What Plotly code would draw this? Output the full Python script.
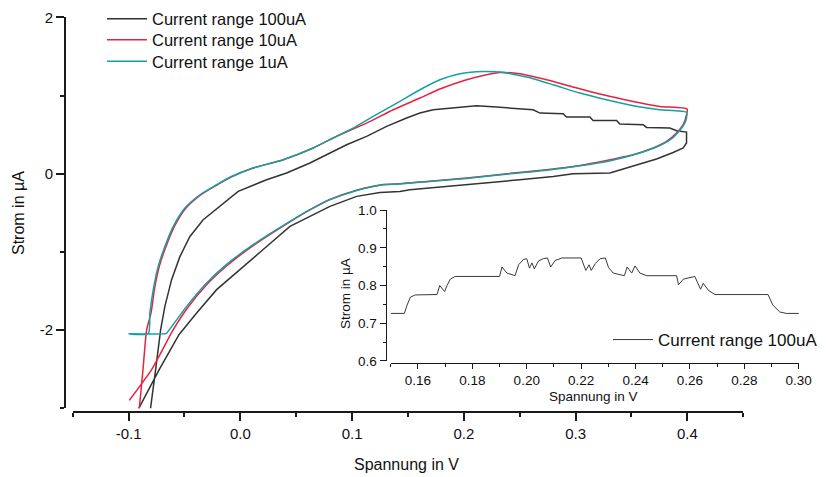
import plotly.graph_objects as go

# ---------------- data ----------------
# Current range 100uA (black)
x_100uA = [-0.0815, -0.0803, -0.0758, -0.0713, -0.0675, -0.0615, -0.0540, -0.0451, -0.0332, -0.0183,
           -0.0019, 0.0235, 0.0414, 0.0623, 0.0772, 0.0951, 0.1130, 0.1309, 0.1488, 0.1607,
           0.1726, 0.1905, 0.2114, 0.2293, 0.2621, 0.2681, 0.2889, 0.2919, 0.3128, 0.3157,
           0.3367, 0.3396, 0.3605, 0.3635, 0.3844, 0.3904, 0.3993,
           0.3993, 0.3963, 0.3873, 0.3784, 0.3725, 0.3605, 0.3456, 0.3307, 0.2978, 0.2800,
           0.2502, 0.2173, 0.1815, 0.1517, 0.1428, 0.1249, 0.1041, 0.0802, 0.0623, 0.0444,
           0.0220, -0.0004, -0.0212, -0.0391, -0.0549, -0.0726, -0.0913, -0.1000]
y_100uA = [-3.15, -2.996, -2.506, -1.995, -1.697, -1.355, -1.058, -0.802, -0.588, -0.418,
           -0.226, -0.077, 0.009, 0.137, 0.243, 0.371, 0.477, 0.605, 0.712, 0.776,
           0.818, 0.840, 0.870, 0.853, 0.818, 0.776, 0.767, 0.725, 0.725, 0.682,
           0.682, 0.636, 0.627, 0.592, 0.584, 0.550, 0.533,
           0.393, 0.329, 0.272, 0.221, 0.188, 0.137, 0.073, 0.009, 0.000, -0.035,
           -0.077, -0.119, -0.170, -0.205, -0.226, -0.239, -0.290, -0.418, -0.546, -0.674,
           -0.950, -1.228, -1.483, -1.781, -2.059, -2.506, -3.018, -3.25]

# Current range 10uA (red)
x_10uA = [-0.0915, -0.0905, -0.0871, -0.0838, -0.0799, -0.0769, -0.0725, -0.0665, -0.0590, -0.0486,
          -0.0351, -0.0205, -0.0088, 0.0115, 0.0384, 0.0652, 0.0831, 0.0891, 0.1130, 0.1368,
          0.1607, 0.1786, 0.2025, 0.2204, 0.2323, 0.2502, 0.2740, 0.2978, 0.3217, 0.3515,
          0.3754, 0.3998,
          0.3993, 0.3963, 0.3903, 0.3814, 0.3694, 0.3515, 0.3277, 0.3038, 0.2740, 0.2383,
          0.2025, 0.1667, 0.1428, 0.1279, 0.1041, 0.0802, 0.0623, 0.0444, 0.0115, -0.0123,
          -0.0302, -0.0480, -0.0600, -0.0794, -0.0994]
y_10uA = [-3.15, -3.018, -2.506, -1.995, -1.781, -1.483, -1.185, -0.930, -0.674, -0.439,
          -0.269, -0.141, -0.045, 0.073, 0.179, 0.329, 0.457, 0.499, 0.648, 0.818,
          0.968, 1.083, 1.202, 1.266, 1.295, 1.279, 1.202, 1.109, 1.019, 0.925,
          0.861, 0.827,
          0.754, 0.627, 0.520, 0.413, 0.329, 0.243, 0.170, 0.106, 0.051, 0.000,
          -0.055, -0.098, -0.128, -0.138, -0.211, -0.330, -0.463, -0.615, -0.920, -1.180,
          -1.420, -1.730, -1.995, -2.506, -2.899]

# Current range 1uA (teal)
x_1uA = [-0.1000, -0.0824, -0.0809, -0.0779, -0.0735, -0.0675, -0.0600, -0.0496, -0.0361, -0.0212,
         -0.0093, 0.0115, 0.0384, 0.0652, 0.0831, 0.1010, 0.1189, 0.1428, 0.1607, 0.1786,
         0.1965, 0.2173, 0.2323, 0.2562, 0.2800, 0.3038, 0.3277, 0.3515, 0.3754, 0.3993,
         0.3993, 0.3970, 0.3930, 0.3860, 0.3750, 0.3580, 0.3310, 0.3040, 0.2740, 0.2380,
         0.2025, 0.1667, 0.1428, 0.1279, 0.1041, 0.0802, 0.0623, 0.0444, 0.0115, -0.0123,
         -0.0302, -0.0480, -0.0659, -0.0665, -0.1000]
y_1uA = [-2.046, -2.046, -1.781, -1.483, -1.185, -0.930, -0.674, -0.439, -0.269, -0.141,
         -0.045, 0.073, 0.179, 0.329, 0.457, 0.584, 0.733, 0.925, 1.074, 1.202,
         1.279, 1.308, 1.301, 1.237, 1.138, 1.032, 0.946, 0.870, 0.818, 0.784,
         0.716, 0.627, 0.550, 0.448, 0.358, 0.269, 0.166, 0.102, 0.045, -0.006,
         -0.061, -0.102, -0.132, -0.141, -0.214, -0.332, -0.460, -0.610, -0.908, -1.160,
         -1.398, -1.697, -2.040, -2.046, -2.046]

# Inset: Current range 100uA, zoomed
x_inset = [0.1500, 0.1550, 0.1560, 0.1572, 0.1590, 0.1670, 0.1680, 0.1698, 0.1707, 0.1719,
           0.1737, 0.1900, 0.1909, 0.1927, 0.1957, 0.1970, 0.1988, 0.2000, 0.2010, 0.2019,
           0.2028, 0.2043, 0.2061, 0.2076, 0.2088, 0.2104, 0.2129, 0.2200, 0.2217, 0.2229,
           0.2237, 0.2252, 0.2270, 0.2289, 0.2301, 0.2318, 0.2359, 0.2369, 0.2386, 0.2398,
           0.2416, 0.2441, 0.2551, 0.2558, 0.2576, 0.2612, 0.2618, 0.2639, 0.2649, 0.2668,
           0.2692, 0.2887, 0.2905, 0.2930, 0.2954, 0.3000]
y_inset = [0.726, 0.726, 0.748, 0.769, 0.775, 0.776, 0.800, 0.784, 0.800, 0.817,
           0.824, 0.824, 0.849, 0.833, 0.826, 0.855, 0.869, 0.871, 0.846, 0.860,
           0.844, 0.865, 0.871, 0.873, 0.849, 0.866, 0.873, 0.873, 0.840, 0.855,
           0.840, 0.858, 0.871, 0.873, 0.847, 0.833, 0.826, 0.849, 0.833, 0.852,
           0.833, 0.826, 0.826, 0.802, 0.817, 0.824, 0.824, 0.790, 0.806, 0.787,
           0.776, 0.776, 0.748, 0.730, 0.726, 0.726]

series_names = ["Current range 100uA", "Current range 10uA", "Current range 1uA"]
inset_name = "Current range 100uA"
x_title = "Spannung in V"
y_title = "Strom in µA"

main_xticks = [-0.1, 0.0, 0.1, 0.2, 0.3, 0.4]
main_xlabels = ["-0.1", "0.0", "0.1", "0.2", "0.3", "0.4"]
main_yticks = [-2, 0, 2]
main_ylabels = ["-2", "0", "2"]

# ---------------- figure ----------------
W, H = 826, 477
FONT = "Liberation Sans, Arial, sans-serif"
AX = "#1a1a1a"


def px(xp):
    return xp / W


def py(yp):
    return 1 - yp / H


fig = go.Figure()
fig.add_trace(go.Scatter(x=x_100uA, y=y_100uA, mode="lines", name=series_names[0],
                         line=dict(color="#333333", width=1.5), xaxis="x", yaxis="y",
                         legend="legend"))
fig.add_trace(go.Scatter(x=x_10uA, y=y_10uA, mode="lines", name=series_names[1],
                         line=dict(color="#e8213f", width=1.5, shape="spline", smoothing=0.6),
                         xaxis="x", yaxis="y", legend="legend3"))
fig.add_trace(go.Scatter(x=x_1uA, y=y_1uA, mode="lines", name=series_names[2],
                         line=dict(color="#14a0a0", width=1.5, shape="spline", smoothing=0.6),
                         xaxis="x", yaxis="y", legend="legend4"))
fig.add_trace(go.Scatter(x=x_inset, y=y_inset, mode="lines", name=inset_name,
                         line=dict(color="#3a3a3a", width=1), xaxis="x2", yaxis="y2",
                         legend="legend2"))

common = dict(showline=True, linecolor=AX, ticks="outside", tickcolor=AX,
              showgrid=False, zeroline=False, automargin=False, anchor="free")


def leg(x, ytop, size):
    return dict(x=px(x), y=py(ytop), xanchor="left", yanchor="top", itemwidth=40,
                font=dict(size=size, family=FONT, color="#111111"),
                bgcolor="rgba(0,0,0,0)", borderwidth=0)


fig.update_layout(
    width=W, height=H,
    margin=dict(l=0, r=0, t=0, b=0),
    paper_bgcolor="white", plot_bgcolor="rgba(0,0,0,0)",
    font=dict(family=FONT, color="#111111"),
    xaxis=dict(domain=[px(72.7), px(743.3)], range=[-0.15, 0.4501], position=py(411.7),
               tickmode="array", tickvals=main_xticks, ticktext=main_xlabels,
               ticklen=8, tickwidth=1.5, linewidth=2,
               tickfont=dict(size=15), minor=dict(dtick=0.05, tick0=0, ticklen=4, tickwidth=1.5,
                                                   ticks="outside", tickcolor=AX),
               **common),
    yaxis=dict(domain=[py(408.3), py(17.3)], range=[-3.001, 2.001], position=px(65),
               tickmode="array", tickvals=main_yticks, ticktext=main_ylabels,
               ticklen=8, tickwidth=1.5, linewidth=2,
               tickfont=dict(size=15), minor=dict(dtick=1, tick0=0, ticklen=4, tickwidth=1.5,
                                                  ticks="outside", tickcolor=AX),
               **common),
    xaxis2=dict(domain=[px(390.5), px(799)], range=[0.1499, 0.3001], position=py(362.7),
                dtick=0.02, tick0=0, tickformat=".2f", ticklen=5, tickwidth=1.2, linewidth=1.3,
                tickfont=dict(size=13.5), minor=dict(dtick=0.01, ticklen=3, tickwidth=1.2,
                                                     ticks="outside", tickcolor=AX),
                **common),
    yaxis2=dict(domain=[py(361), py(210)], range=[0.5999, 1.0001], position=px(385.7),
                dtick=0.1, tick0=0, tickformat=".1f", ticklen=6, tickwidth=1.2, linewidth=1.3,
                tickfont=dict(size=13.5), minor=dict(dtick=0.05, ticklen=3, tickwidth=1.2,
                                                     ticks="outside", tickcolor=AX),
                **common),
    showlegend=True,
    legend=leg(102, 1.5, 16.5),
    legend3=leg(102, 22.5, 16.5),
    legend4=leg(102, 44, 16.5),
    legend2=leg(608, 322, 17),
    annotations=[
        dict(text=x_title, x=px(406), y=py(464), xref="paper", yref="paper",
             showarrow=False, xanchor="center", yanchor="middle", font=dict(size=16)),
        dict(text=y_title, x=px(18), y=py(213), xref="paper", yref="paper", textangle=-90,
             showarrow=False, xanchor="center", yanchor="middle", font=dict(size=16)),
        dict(text=x_title, x=px(593), y=py(396), xref="paper", yref="paper",
             showarrow=False, xanchor="center", yanchor="middle", font=dict(size=13.5)),
        dict(text=y_title, x=px(345), y=py(294), xref="paper", yref="paper", textangle=-90,
             showarrow=False, xanchor="center", yanchor="middle", font=dict(size=13.5)),
    ],
)

fig.write_html("out.html")
